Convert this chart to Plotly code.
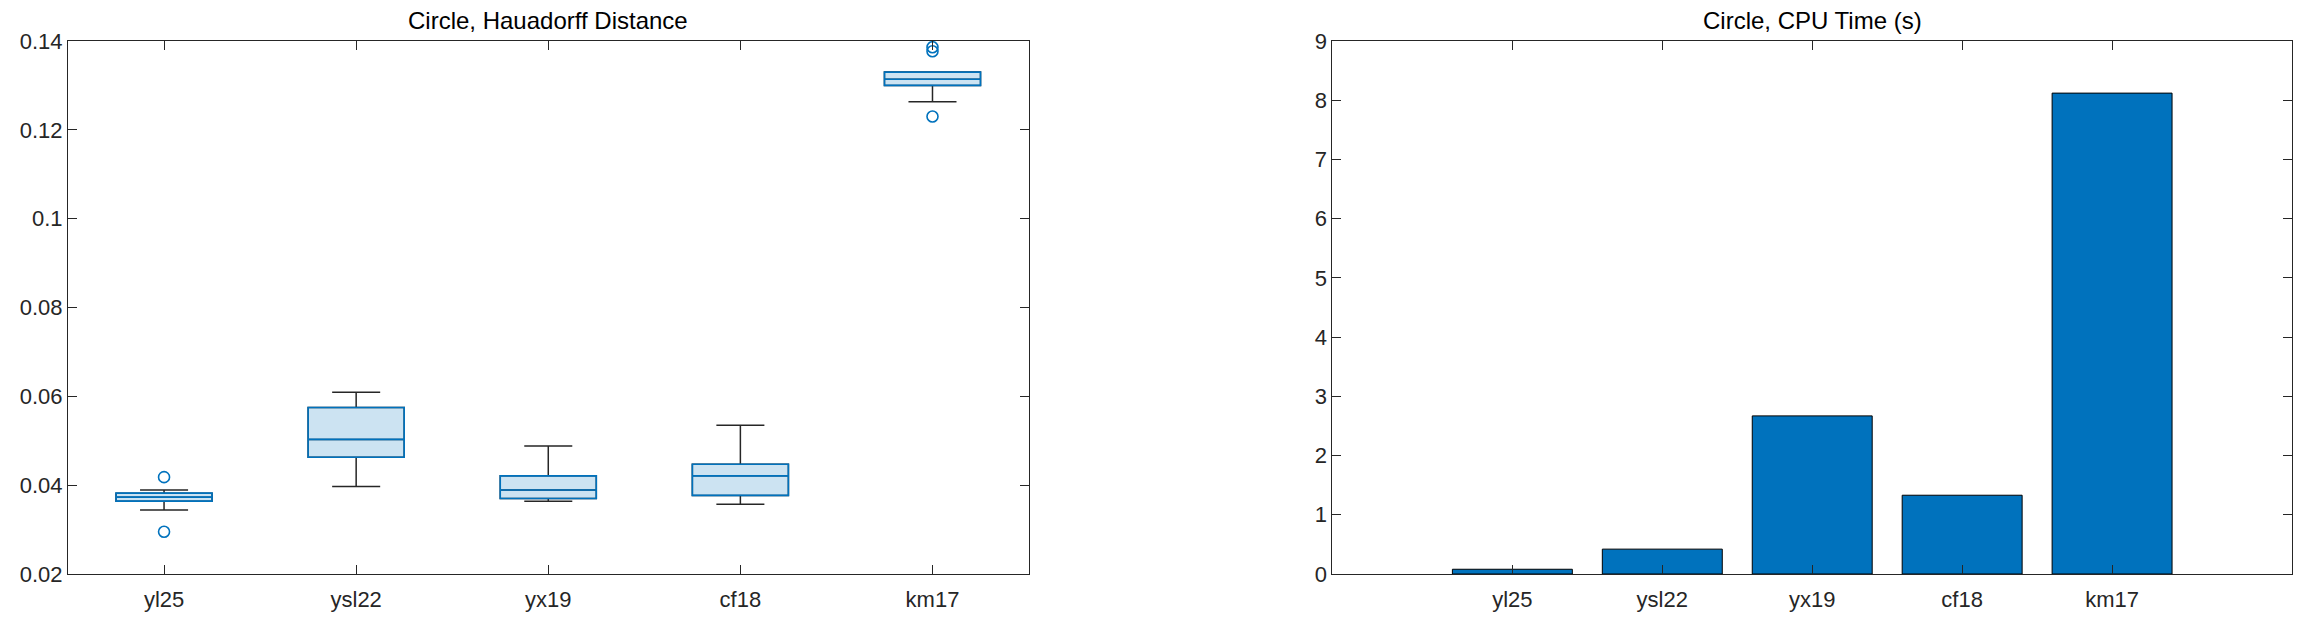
import plotly.graph_objects as go

# Catégories (méthodes)
methods = ['yl25', 'ysl22', 'yx19', 'cf18', 'km17']
positions = [1, 2, 3, 4, 5]

# Statistiques des boîtes (distance de Hausdorff)
q1 = [0.0364, 0.0463, 0.0370, 0.0377, 0.1300]
median = [0.0373, 0.0503, 0.0389, 0.0421, 0.1314]
q3 = [0.0382, 0.0575, 0.0421, 0.0447, 0.1330]
whisker_low = [0.0344, 0.0397, 0.0364, 0.0357, 0.1263]
whisker_high = [0.0389, 0.0609, 0.0488, 0.0535, 0.1330]

# Valeurs aberrantes
outlier_x = [1, 1, 5, 5, 5]
outlier_y = [0.0418, 0.0295, 0.1386, 0.1377, 0.1230]

# Temps CPU (s)
cpu_time = [0.08, 0.42, 2.67, 1.33, 8.12]

# Graduations
left_ticks = [0.02, 0.04, 0.06, 0.08, 0.1, 0.12, 0.14]
left_ticktext = ['0.02', '0.04', '0.06', '0.08', '0.1', '0.12', '0.14']
right_ticks = [0, 1, 2, 3, 4, 5, 6, 7, 8, 9]

BLUE = '#0072BD'
DARK = '#262626'
FONT = 'Liberation Sans, Arial, Helvetica, sans-serif'

fig = go.Figure()

# Moustaches (noires)
fig.add_trace(go.Box(
    x=positions, q1=q1, median=median, q3=q3,
    lowerfence=whisker_low, upperfence=whisker_high,
    width=0.5, whiskerwidth=0.5,
    line=dict(color=DARK, width=1.5),
    fillcolor='rgba(0,0,0,0)',
    boxpoints=False, showlegend=False,
    xaxis='x', yaxis='y'
))

# Boîtes (bleues)
fig.add_trace(go.Box(
    x=positions, q1=q1, median=median, q3=q3,
    lowerfence=q1, upperfence=q3,
    width=0.5, whiskerwidth=0.5,
    line=dict(color=BLUE, width=1.6),
    fillcolor='rgba(0,114,189,0.2)',
    boxpoints=False, showlegend=False,
    xaxis='x', yaxis='y'
))

fig.add_trace(go.Scatter(
    x=outlier_x, y=outlier_y, mode='markers',
    marker=dict(symbol='circle-open', size=11, color=BLUE, line=dict(width=1.6, color=BLUE)),
    showlegend=False, xaxis='x', yaxis='y'
))

# Barres du temps CPU
fig.add_trace(go.Bar(
    x=positions, y=cpu_time, width=0.8,
    marker=dict(color=BLUE, line=dict(color='black', width=1)),
    showlegend=False, xaxis='x2', yaxis='y2'
))

axis_style = dict(
    showline=True, linecolor=DARK, linewidth=1, mirror='ticks',
    ticks='inside', ticklen=9, tickwidth=1, tickcolor=DARK,
    showgrid=False, zeroline=False,
    tickfont=dict(family=FONT, size=22, color=DARK),
)

split_left = 964 / 2232
split_right = 1269 / 2232

# la page ajoute ~8 px de marge au corps : on compense
fig.update_layout(
    width=2301, height=617,
    margin=dict(l=52, r=17, t=33, b=51),
    paper_bgcolor='white', plot_bgcolor='white',
    font=dict(family=FONT, size=22, color=DARK),
    xaxis=dict(domain=[0, split_left], range=[0.5, 5.5], ticklabelstandoff=6,
               tickvals=positions, ticktext=methods, anchor='y', **axis_style),
    yaxis=dict(range=[0.02, 0.14], tickvals=left_ticks, ticktext=left_ticktext,
               anchor='x', **axis_style),
    xaxis2=dict(domain=[split_right, 1], range=[-0.2, 6.2], ticklabelstandoff=6,
                tickvals=positions, ticktext=methods, anchor='y2', **axis_style),
    yaxis2=dict(range=[0, 9], tickvals=right_ticks, anchor='x2', **axis_style),
    annotations=[
        dict(text='Circle, Hauadorff Distance', xref='paper', yref='paper',
             x=split_left / 2, y=1, xanchor='center', yanchor='bottom', yshift=5,
             showarrow=False, font=dict(family=FONT, size=24, color='black')),
        dict(text='Circle, CPU Time (s)', xref='paper', yref='paper',
             x=(split_right + 1) / 2, y=1, xanchor='center', yanchor='bottom', yshift=5,
             showarrow=False, font=dict(family=FONT, size=24, color='black')),
    ],
)

fig.write_html("out.html")
